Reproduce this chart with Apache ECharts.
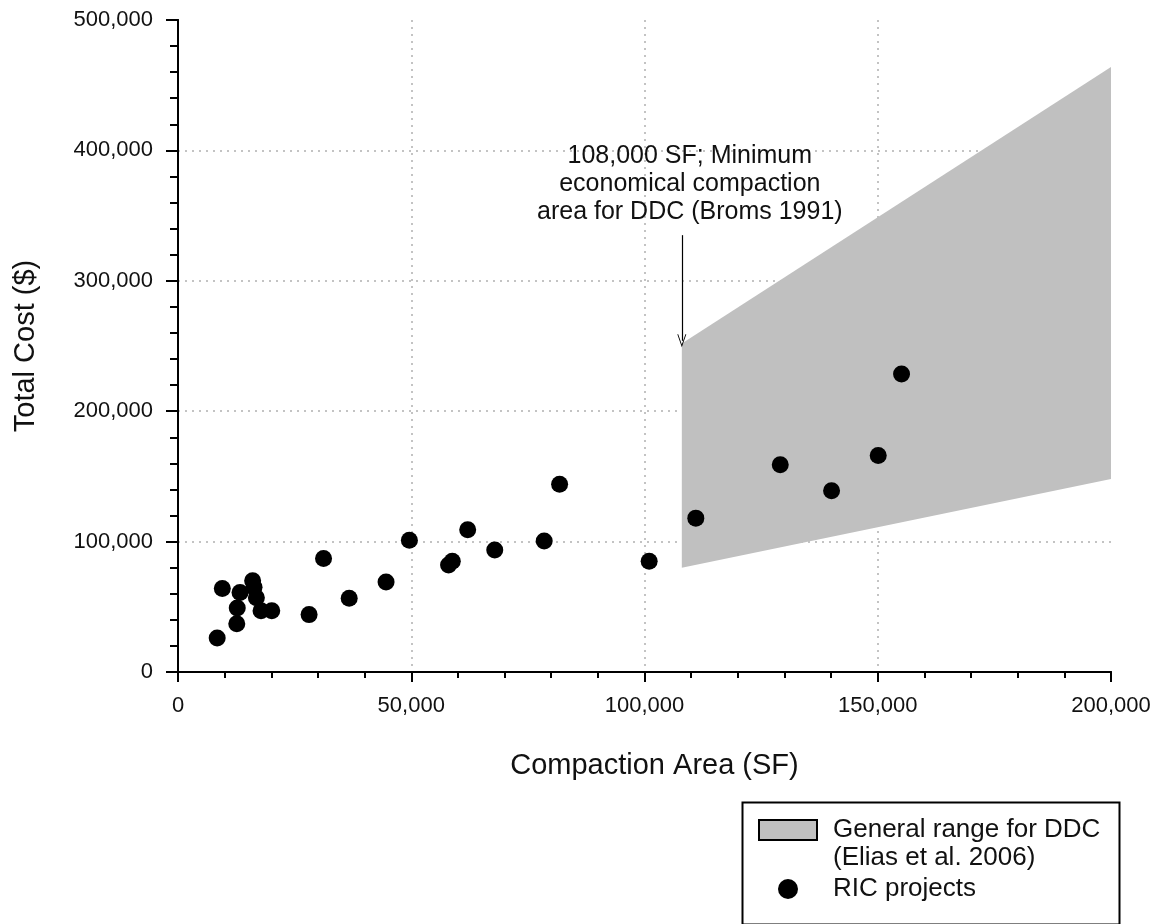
<!DOCTYPE html>
<html>
<head>
<meta charset="utf-8">
<script src="https://cdn.jsdelivr.net/npm/echarts@6/dist/echarts.min.js"></script>
<style>html,body{margin:0;padding:0;background:#fff}#c{width:1165px;height:924px}</style>
</head>
<body>
<div id="c"></div>
<script>
// Data
const ricArea = [8400, 9500, 12600, 12700, 13300, 16000, 16300, 16800, 17800, 20100, 28100, 31200, 36700, 44600, 49600, 58000, 58800, 62100, 67900, 78500, 81800, 101000, 111000, 129100, 140100, 150100, 155100];
const ricCost = [26000, 64000, 37000, 49000, 61000, 70000, 65000, 57000, 47000, 47000, 44000, 87000, 56500, 69000, 101000, 82000, 85000, 109000, 93500, 100500, 144000, 85000, 118000, 159000, 139000, 166000, 228500];
const ddcArea = [108000, 200000, 200000, 108000];
const ddcCost = [252000, 464000, 148000, 80000];
const xTickLabels = ['0', '50,000', '100,000', '150,000', '200,000'];
const yTickLabels = ['0', '100,000', '200,000', '300,000', '400,000', '500,000'];
const annotArea = 108000;
const annotFrom = 335000;
const annotTo = 254000;
const annotText = ['108,000 SF; Minimum', 'economical compaction', 'area for DDC (Broms 1991)'];
const ddcName = 'General range for DDC\n(Elias et al. 2006)';
const ricName = 'RIC projects';

const FONT = '"Liberation Sans", Arial, sans-serif';
const chart = echarts.init(document.getElementById('c'), null, {renderer: 'canvas'});

const scatterData = ricArea.map((x, i) => [x, ricCost[i]]);
const polyData = ddcArea.map((x, i) => [x, ddcCost[i]]);

const frameAxis = {
  axisLine: {show: true, lineStyle: {color: '#000', width: 2}},
  axisTick: {show: false}, axisLabel: {show: false}, splitLine: {show: false}
};

chart.setOption({
  animation: false,
  backgroundColor: '#fff',
  textStyle: {fontFamily: FONT},
  grid: {left: 178, right: 54, top: 20, bottom: 252},
  xAxis: [{
    type: 'value', min: 0, max: 200000, interval: 50000,
    name: 'Compaction Area (SF)', nameLocation: 'middle', nameGap: 79,
    nameTextStyle: {fontSize: 29, color: '#111', fontFamily: FONT, padding: [0, 0, 0, 20]},
    axisLine: {show: true, lineStyle: {color: '#000', width: 2}},
    axisTick: {show: true, length: 10, lineStyle: {color: '#000', width: 2}},
    minorTick: {show: true, splitNumber: 5, length: 6, lineStyle: {color: '#000', width: 2}},
    axisLabel: {fontSize: 22, color: '#111', margin: 23, fontFamily: FONT,
      formatter: (v) => xTickLabels[Math.round(v / 50000)]},
    splitLine: {show: true, showMinLine: false, showMaxLine: false, lineStyle: {color: '#b0b0b0', width: 1.5, type: [2, 5]}},
    minorSplitLine: {show: false}
  }, Object.assign({type: 'value', position: 'top', min: 0, max: 200000}, frameAxis)],
  yAxis: [{
    type: 'value', min: 0, max: 500000, interval: 100000,
    name: 'Total Cost ($)', nameLocation: 'middle', nameGap: 138, nameRotate: 90,
    nameTextStyle: {fontSize: 29, color: '#111', fontFamily: FONT},
    axisLine: {show: true, lineStyle: {color: '#000', width: 2}},
    axisTick: {show: true, length: 12, lineStyle: {color: '#000', width: 2}},
    minorTick: {show: true, splitNumber: 5, length: 8, lineStyle: {color: '#000', width: 2}},
    axisLabel: {fontSize: 22, color: '#111', margin: 25, fontFamily: FONT,
      formatter: (v) => yTickLabels[Math.round(v / 100000)]},
    splitLine: {show: true, showMinLine: false, showMaxLine: false, lineStyle: {color: '#b0b0b0', width: 1.5, type: [2, 5]}}
  }, Object.assign({type: 'value', position: 'right', min: 0, max: 500000}, frameAxis)],
  legend: {
    orient: 'vertical', left: 758, top: 788, padding: 0, itemGap: 3,
    itemWidth: 58, itemHeight: 20,
    formatter: (name) => name === ddcName ? '\n' + name : name,
    textStyle: {fontSize: 26, lineHeight: 28, color: '#111', fontFamily: FONT, padding: [0, 0, 0, 11]},
    data: [
      {name: ddcName, icon: 'rect', itemStyle: {color: '#c0c0c0', borderColor: '#000', borderWidth: 2}},
      {name: ricName, icon: 'circle', itemStyle: {color: '#000', opacity: 1}}
    ]
  },
  graphic: [{
    type: 'rect', left: 740, top: 800, z: 100,
    shape: {width: 377, height: 122},
    style: {fill: 'none', stroke: '#000', lineWidth: 2}
  }],
  series: [
    {
      name: ddcName, type: 'custom', z: 2,
      itemStyle: {color: '#c0c0c0'},
      data: [0],
      renderItem: function (params, api) {
        const pts = polyData.map(p => api.coord(p));
        return {type: 'polygon', shape: {points: pts}, style: {fill: '#c0c0c0', stroke: 'none'}};
      }
    },
    {
      name: ricName, type: 'scatter', z: 5,
      symbol: 'circle', symbolSize: 17,
      itemStyle: {color: '#000', opacity: 1},
      data: scatterData,
      markLine: {
        silent: true, z: 6,
        symbol: ['none', 'path://M0,12 L5,0 L10,12 L9,12 L5,2.5 L1,12 Z'],
        symbolSize: [9, 13],
        lineStyle: {color: '#000', width: 1.2, type: 'solid'},
        label: {show: false},
        data: [[{coord: [annotArea, annotFrom]}, {coord: [annotArea, annotTo]}]]
      },
      markPoint: {
        silent: true, symbol: 'circle', symbolSize: 0,
        label: {show: true, position: 'top', distance: 9, offset: [8, 0],
          formatter: annotText.join('\n'), fontSize: 25, lineHeight: 28, color: '#111', fontFamily: FONT, align: 'center'},
        data: [{coord: [annotArea, annotFrom]}]
      }
    }
  ]
});
</script>
</body>
</html>
